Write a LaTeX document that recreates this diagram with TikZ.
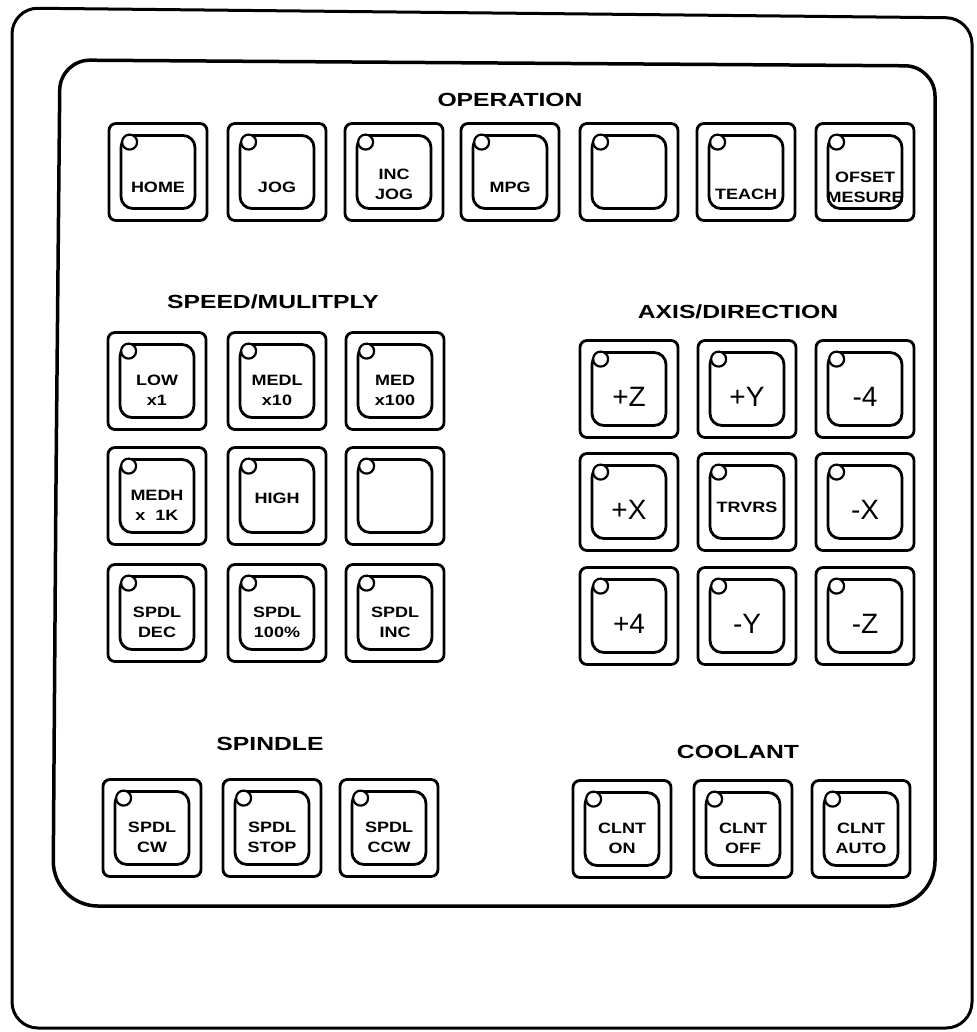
\documentclass[tikz,border=0pt]{standalone}
\usepackage{fontspec}
\setmainfont{Liberation Sans}
\newfontfamily\widefont[FakeStretch=1.2]{Liberation Sans}
\newfontfamily\titlefontfam[FakeStretch=1.3]{Liberation Sans}
\usetikzlibrary{calc}

\tikzset{
  frameline/.style={draw=black, line width=3pt},
  keyouter/.style={draw=black, line width=2.8pt, rounded corners=7pt,
    minimum width=98pt, minimum height=97pt, inner sep=0pt},
  keyinner/.style={draw=black, line width=2.8pt, rounded corners=12pt,
    minimum width=74pt, minimum height=73pt, inner sep=0pt},
  led/.style={draw=black, line width=2.2pt, circle, minimum size=15pt,
    inner sep=0pt, fill=white},
  keylabel/.style={font=\widefont\fontsize{15}{20}\selectfont\bfseries,
    align=center, inner sep=0pt},
  axislabel/.style={font=\fontsize{28}{30}\selectfont, inner sep=0pt},
  paneltitle/.style={font=\titlefontfam\fontsize{19}{22}\selectfont\bfseries,
    inner sep=0pt},
}

% #1 name, #2 x, #3 y, #4 label style, #5 label y-offset, #6 label
\newcommand\keyunit[6]{%
  \node[keyouter] (#1) at (#2,#3) {};
  \node[keyinner] (#1-in) at (#1) {};
  \node[led] (#1-led) at ($(#1.north west)+(22,20)$) {};
  \node[#4] (#1-txt) at ($(#1)+(0,#5)$) {#6};
}
\newcommand\blankkey[3]{%
  \node[keyouter] (#1) at (#2,#3) {};
  \node[keyinner] (#1-in) at (#1) {};
  \node[led] (#1-led) at ($(#1.north west)+(22,20)$) {};
}

\begin{document}
\begin{tikzpicture}[x=1pt, y=-1pt]
\useasboundingbox (0,0) rectangle (976,1032);

% outer housing
\draw[frameline] (12,520) [rounded corners=26pt] -- (12,8) -- (972,18)
  -- (972,1028) -- (12,1028) -- cycle;
% inner panel
\draw[frameline, line width=3.5pt] (56,480) [rounded corners=30pt] -- (60,60)
  -- (935,66) [rounded corners=45pt] -- (935,906) -- (53,906) -- cycle;

% titles
\node[paneltitle] (t-op) at (510,100) {OPERATION};
\node[paneltitle] (t-speed) at (273,302) {SPEED/MULITPLY};
\node[paneltitle] (t-axis) at (738,312) {AXIS/DIRECTION};
\node[paneltitle] (t-spindle) at (270,744) {SPINDLE};
\node[paneltitle] (t-cool) at (738,752) {COOLANT};

% operation row
\keyunit{home}{158}{172}{keylabel}{15}{HOME}
\keyunit{jog}{277}{172}{keylabel}{15}{JOG}
\keyunit{incjog}{394}{172}{keylabel}{12}{INC\\JOG}
\keyunit{mpg}{510}{172}{keylabel}{15}{MPG}
\blankkey{opblank}{629}{172}
\keyunit{teach}{746}{172}{keylabel}{22}{TEACH}
\keyunit{ofset}{865}{172}{keylabel}{15}{OFSET\\MESURE}

% speed / multiply
\keyunit{low}{157}{381}{keylabel}{9}{LOW\\x1}
\keyunit{medl}{277}{381}{keylabel}{9}{MEDL\\x10}
\keyunit{med}{395}{381}{keylabel}{9}{MED\\x100}
\keyunit{medh}{157}{496}{keylabel}{9}{MEDH\\x\ \ 1K}
\keyunit{high}{277}{496}{keylabel}{2}{HIGH}
\blankkey{spblank}{395}{496}
\keyunit{sdec}{157}{613}{keylabel}{9}{SPDL\\DEC}
\keyunit{s100}{277}{613}{keylabel}{9}{SPDL\\100\%}
\keyunit{sinc}{395}{613}{keylabel}{9}{SPDL\\INC}

% axis / direction
\keyunit{pz}{629}{389}{axislabel}{8}{+Z}
\keyunit{py}{747}{389}{axislabel}{8}{+Y}
\keyunit{m4}{865}{389}{axislabel}{8}{-4}
\keyunit{px}{629}{502}{axislabel}{8}{+X}
\keyunit{trvrs}{747}{502}{keylabel}{5}{TRVRS}
\keyunit{mx}{865}{502}{axislabel}{8}{-X}
\keyunit{p4}{629}{616}{axislabel}{8}{+4}
\keyunit{my}{747}{616}{axislabel}{8}{-Y}
\keyunit{mz}{865}{616}{axislabel}{8}{-Z}

% spindle
\keyunit{scw}{152}{828}{keylabel}{9}{SPDL\\CW}
\keyunit{sstop}{272}{828}{keylabel}{9}{SPDL\\STOP}
\keyunit{sccw}{389}{828}{keylabel}{9}{SPDL\\CCW}

% coolant
\keyunit{con}{622}{829}{keylabel}{9}{CLNT\\ON}
\keyunit{coff}{743}{829}{keylabel}{9}{CLNT\\OFF}
\keyunit{cauto}{861}{829}{keylabel}{9}{CLNT\\AUTO}
\end{tikzpicture}
\end{document}
